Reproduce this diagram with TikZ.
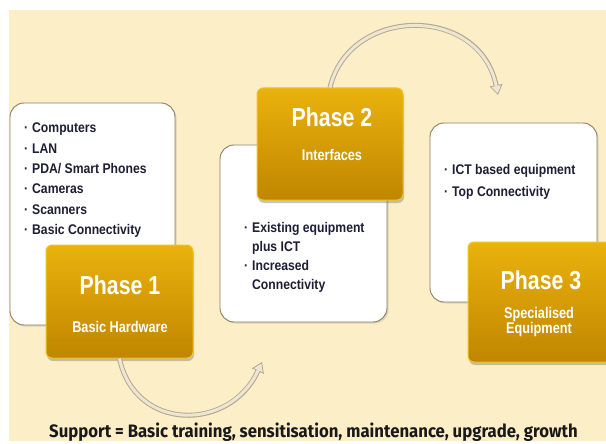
\documentclass[tikz,border=0pt]{standalone}
\usepackage{fontspec}
\setmainfont{Liberation Sans}
\newfontfamily\bodyfont[FakeStretch=0.87]{Liberation Sans}
\newfontfamily\phasefont[FakeStretch=0.82]{Liberation Sans}
\newfontfamily\supfont[FakeStretch=0.93]{Fira Sans}
\usetikzlibrary{shadows,arrows.meta}
\definecolor{cream}{HTML}{FCEFC8}
\definecolor{boxline}{HTML}{8C7D5E}
\definecolor{goldtop}{HTML}{EAB20C}
\definecolor{goldbot}{HTML}{C08600}
\definecolor{goldedge}{HTML}{F2C424}
\definecolor{txt}{HTML}{1E1E34}
\definecolor{arrowout}{HTML}{B3A890}
\definecolor{arrowin}{HTML}{EEE6D2}
\newcommand\bul{\makebox[8pt][l]{·}}
\newcommand\hang{\hspace*{8pt}}
\begin{document}
\begin{tikzpicture}[x=1pt,y=-1pt,
 infobox/.style={draw=boxline, line width=0.9pt, fill=white, rounded corners=14pt, inner sep=0,
   drop shadow={shadow xshift=1.5pt, shadow yshift=-1.5pt, opacity=0.25}},
 phasebox/.style={draw=goldedge, line width=1pt, top color=goldtop, bottom color=goldbot,
   rounded corners=6pt, inner sep=0,
   drop shadow={shadow xshift=1pt, shadow yshift=-3pt, opacity=0.45}},
 phasetitle/.style={text=white, font=\phasefont\bfseries\fontsize{26}{28}\selectfont, inner sep=0},
 phasesub/.style={text=white, font=\phasefont\bfseries\fontsize{15.5}{15}\selectfont, inner sep=0, align=center},
 bullets/.style={text=txt, font=\bodyfont\bfseries\fontsize{14}{20.3}\selectfont, align=left, inner sep=0, anchor=north west},
 arcout/.style={draw=arrowout, line width=5pt,
   -{Triangle[length=10pt,width=13pt,line width=0.8pt,fill=arrowin]}},
 arcin/.style={draw=arrowin, line width=3pt, shorten >=9pt},
]
\useasboundingbox (0,0) rectangle (606,444);
\fill[white] (0,0) rectangle (606,444);
\fill[cream] (9,10) rectangle (606,441);

% info boxes
\node[infobox, minimum width=165pt, minimum height=222pt] (b1) at (92.5,214) {};
\node[infobox, minimum width=167pt, minimum height=177pt] (b2) at (303.5,233.5) {};
\node[infobox, minimum width=167pt, minimum height=179pt] (b3) at (513.5,212.5) {};

% phase boxes
\node[phasebox, minimum width=147pt, minimum height=113pt] (p1) at (119.5,301.5) {};
\node[phasebox, minimum width=146pt, minimum height=112pt] (p2) at (330,144) {};
\node[phasebox, minimum width=144pt, minimum height=120pt] (p3) at (540,302) {};

% phase texts
\node[phasetitle] (p1t) at (120,285) {Phase 1};
\node[phasesub] (p1s) at (120,327) {Basic Hardware};
\node[phasetitle] (p2t) at (332,117) {Phase 2};
\node[phasesub] (p2s) at (332,155) {Interfaces};
\node[phasetitle] (p3t) at (541,280) {Phase 3};
\node[phasesub] (p3s) at (539,322) {Specialised\\Equipment};

% bullet texts
\node[bullets] (t1) at (24,123) {\bul Computers\\\bul LAN\\\bul PDA/ Smart Phones\\\bul Cameras\\\bul Scanners\\\bul Basic Connectivity};
\node[bullets, font=\bodyfont\bfseries\fontsize{14}{19}\selectfont] (t2) at (244,222) {\bul Existing equipment\\\hang plus ICT\\\bul Increased\\\hang Connectivity};
\node[bullets, font=\bodyfont\bfseries\fontsize{14}{22}\selectfont] (t3) at (444,164) {\bul ICT based equipment\\\bul Top Connectivity};

% cycle arrows
\coordinate (a1end) at (262,362);
\coordinate (a2end) at (498,95);
\draw[arcout] (p1.south) .. controls (135,432) and (230,432) .. (a1end);
\draw[arcin] (p1.south) .. controls (135,432) and (230,432) .. (a1end);
\draw[arcout] (p2.north) .. controls (350,5) and (480,5) .. (a2end);
\draw[arcin] (p2.north) .. controls (350,5) and (480,5) .. (a2end);

% support line
\node[text=black!90, font=\supfont\bfseries\fontsize{18}{20}\selectfont, inner sep=0, anchor=base] (sup) at (313.5,437)
  {Support = Basic training, sensitisation, maintenance, upgrade, growth};
\end{tikzpicture}
\end{document}
